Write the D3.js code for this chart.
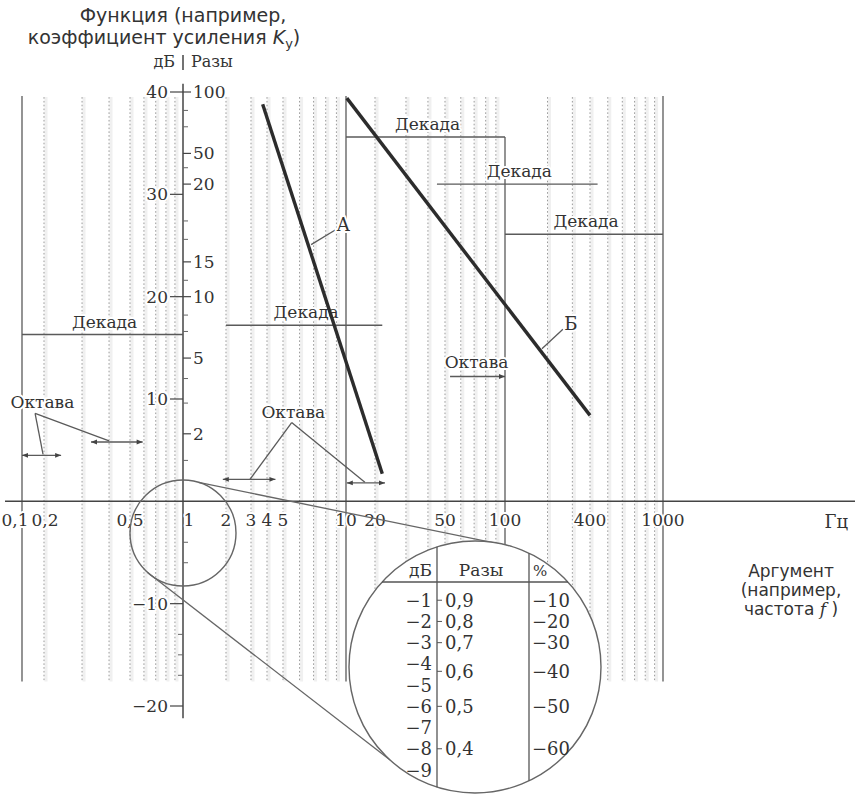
<!DOCTYPE html>
<html><head><meta charset="utf-8">
<script src="https://cdn.jsdelivr.net/npm/d3@7"></script>
<style>body{margin:0;background:#fff}svg{display:block}</style>
</head><body><svg id="c" width="859" height="799"></svg>
<script>
// ---------------- DATA ----------------
const freqTickValues = [0.1, 0.2, 0.5, 1, 2, 3, 4, 5, 10, 20, 50, 100, 400, 1000];
const freqTickLabels = ["0,1", "0,2", "0,5", "1", "2", "3", "4", "5", "10", "20", "50", "100", "400", "1000"];
const dbTickValues = [40, 30, 20, 10, -10, -20];
const dbTickLabels = ["40", "30", "20", "10", "−10", "−20"];
const ratioTickLabels = ["100", "50", "20", "15", "10", "5", "2"];
const ratioTickDb = [40, 34, 31, 23.4, 20, 14, 6.6];
const minorTickDb = [38.2, 36.6, 32.6, 27.4, 25.6, 21.6, 18.2, 16.6, 12, 9.6, 4, -4, -6, -13, -15, -17];
const lineA = [[3.7, 38.8], [22, 2.7]];
const lineB = [[10.2, 39.4], [400, 8.4]];
const lineLabels = [{ text: "А", f: 9.7, db: 27.1, t: 0.38 }, { text: "Б", f: 293, db: 17.4, t: 0.79 }];
const decadeFreq = [0.1, 10, 100, 1000];
const decadeTopDb = [39.6, 39.6, 35.6, 39.6];
const decadeSpans = [[0.1, 1, 16.3], [2, 22, 17.2], [10, 100, 35.6], [45, 440, 31.0], [100, 1000, 26.1]];
const octaveSpans = [[0.1, 0.24, 4.5, "both"], [0.33, 0.59, 5.8, "both"], [1.9, 4.5, 2.15, "both"], [10.2, 22.8, 1.8, "both"], [53, 100, 12.2, "end"]];
const octaveLabels = [
  { f: 0.19, db: 9.1, apex: [0.151, 8.6], targets: [[0.194, 4.6], [0.40, 5.9]] },
  { f: 5.6, db: 8.1, apex: [5.5, 7.7], targets: [[2.95, 2.15], [15.7, 1.86]] },
  { f: 72, db: 13.0, apex: null, targets: [] }
];
const zoomCircleCenter = [1, -3.1];
const zoomDb = [-1, -2, -3, -4, -5, -6, -7, -8, -9];
const zoomRatio = ["0,9", "0,8", "0,7", "0,6", "0,5", "0,4"];
const zoomPct = ["−10", "−20", "−30", "−40", "−50", "−60"];
const zoomRatioDb = [-1, -2, -3, -4.35, -6, -8];

// ---------------- LAYOUT ----------------
const svg = d3.select("#c");
const serif = "'DejaVu Serif', 'Liberation Serif', serif";
const sans = "'DejaVu Sans', 'Noto Sans', sans-serif";
const ink = "#333", lineC = "#5a5a5a";

const x = d3.scaleLog().domain(freqTickValues)
  .range([22, 44, 130, 183, 226, 251, 267, 283, 346, 375, 445, 505, 590, 663]);
const y = d3.scaleLinear().domain([-20, 40]).range([706, 92]);
const X0 = x(1), Y0 = y(0);

// grid
const gridVals = [];
[0.1, 1, 10, 100].forEach(d => { for (let k = 2; k <= 9; k++) gridVals.push(d * k); });
const g = svg.append("g");
g.selectAll("line.u").data(gridVals).join("line")
  .attr("x1", d => x(d) + 2).attr("x2", d => x(d) + 2).attr("y1", y(39.5)).attr("y2", y(-17.6))
  .attr("stroke", "#f0f0f0").attr("stroke-width", 3);
g.selectAll("line.d").data(gridVals).join("line")
  .attr("x1", d => x(d)).attr("x2", d => x(d)).attr("y1", y(39.5)).attr("y2", y(-17.6))
  .attr("stroke", "#999").attr("stroke-width", 1).attr("stroke-dasharray", "1.6,2.2");

// decade solid verticals
svg.selectAll("line.dec").data(decadeFreq).join("line")
  .attr("x1", d => x(d)).attr("x2", d => x(d))
  .attr("y1", (d, i) => y(decadeTopDb[i])).attr("y2", y(-17.6))
  .attr("stroke", lineC).attr("stroke-width", 1.3);

// axes
svg.append("line").attr("x1", 5).attr("x2", 855).attr("y1", Y0).attr("y2", Y0)
  .attr("stroke", "#444").attr("stroke-width", 1.5);
svg.append("line").attr("x1", X0).attr("x2", X0).attr("y1", y(40.8)).attr("y2", y(-21.2))
  .attr("stroke", "#444").attr("stroke-width", 1.5);

// halo text helper
function txt(sel, s, x0, y0, opts = {}) {
  return sel.append("text").attr("x", x0).attr("y", y0).text(s)
    .attr("font-family", opts.family || serif).attr("font-size", opts.size || 17)
    .attr("fill", ink).attr("text-anchor", opts.anchor || "middle")
    .attr("dominant-baseline", opts.baseline || "auto")
    .attr("stroke", "#fff").attr("stroke-width", opts.halo === undefined ? 4 : opts.halo)
    .attr("paint-order", "stroke").attr("stroke-linejoin", "round");
}

// y ticks
dbTickValues.forEach((v, i) => {
  svg.append("line").attr("x1", X0 - 13).attr("x2", X0).attr("y1", y(v)).attr("y2", y(v)).attr("stroke", "#444").attr("stroke-width", 1.2);
  txt(svg, dbTickLabels[i], X0 - 15, y(v), { anchor: "end", baseline: "central" });
});
ratioTickDb.forEach((v, i) => {
  svg.append("line").attr("x1", X0).attr("x2", X0 + 8).attr("y1", y(v)).attr("y2", y(v)).attr("stroke", "#444").attr("stroke-width", 1.2);
  txt(svg, ratioTickLabels[i], X0 + 10, y(v), { anchor: "start", baseline: "central" });
});
minorTickDb.forEach(v => {
  svg.append("line").attr("x1", v < -10 ? X0 - 5 : X0).attr("x2", v < -10 ? X0 : X0 + 5)
    .attr("y1", y(v)).attr("y2", y(v)).attr("stroke", "#666").attr("stroke-width", 1);
});

// x tick labels
freqTickValues.forEach((v, i) => {
  const dx = v === 1 ? 6 : (v === 0.1 ? -7 : (v === 0.2 ? 1 : 0));
  txt(svg, freqTickLabels[i], x(v) + dx, Y0 + 25, {});
});

// markers
const defs = svg.append("defs");
defs.append("marker").attr("id", "ah").attr("viewBox", "0 0 10 10").attr("refX", 10).attr("refY", 5)
  .attr("markerWidth", 9).attr("markerHeight", 6).attr("markerUnits", "userSpaceOnUse").attr("orient", "auto-start-reverse")
  .append("path").attr("d", "M0,1 L10,5 L0,9 Z").attr("fill", "#444");

// decade spans
decadeSpans.forEach(([f0, f1, db]) => {
  svg.append("line").attr("x1", x(f0)).attr("x2", x(f1)).attr("y1", y(db)).attr("y2", y(db))
    .attr("stroke", lineC).attr("stroke-width", 1.4);
  txt(svg, "Декада", (x(f0) + x(f1)) / 2 + 2, y(db) - 7, {});
});

// octave spans
octaveSpans.forEach(([f0, f1, db, heads]) => {
  const l = svg.append("line").attr("x1", x(f0)).attr("x2", x(f1)).attr("y1", y(db)).attr("y2", y(db))
    .attr("stroke", lineC).attr("stroke-width", 1.3).attr("marker-end", "url(#ah)");
  if (heads === "both") l.attr("marker-start", "url(#ah)");
});
octaveLabels.forEach(o => {
  if (o.apex) o.targets.forEach(t => {
    svg.append("line").attr("x1", x(o.apex[0])).attr("y1", y(o.apex[1])).attr("x2", x(t[0])).attr("y2", y(t[1]))
      .attr("stroke", lineC).attr("stroke-width", 1.3);
  });
});
octaveLabels.forEach(o => txt(svg, "Октава", x(o.f), y(o.db), {}));

// main lines
const lineGen = d3.line().x(d => x(d[0])).y(d => y(d[1]));
[lineA, lineB].forEach(L => {
  svg.append("path").attr("d", lineGen(L)).attr("fill", "none").attr("stroke", "#2c2c2c").attr("stroke-width", 3.4);
});
[lineA, lineB].forEach((L, i) => {
  const lb = lineLabels[i];
  const px = x(L[0][0]) + lb.t * (x(L[1][0]) - x(L[0][0]));
  const py = y(L[0][1]) + lb.t * (y(L[1][1]) - y(L[0][1]));
  const lx = x(lb.f), ly = y(lb.db);
  svg.append("line").attr("x1", px + 3).attr("y1", py).attr("x2", lx - 8).attr("y2", ly + 6)
    .attr("stroke", lineC).attr("stroke-width", 1.3);
  txt(svg, lb.text, lx, ly, { baseline: "central", size: 18 });
});

// magnifier circles
const c1 = [x(zoomCircleCenter[0]), y(zoomCircleCenter[1])], r1 = 53;
const c2 = [475, 667], r2 = 126;
svg.append("circle").attr("cx", c1[0]).attr("cy", c1[1]).attr("r", r1)
  .attr("fill", "none").attr("stroke", "#666").attr("stroke-width", 1.4);
const dx = c2[0] - c1[0], dy = c2[1] - c1[1], dist = Math.hypot(dx, dy);
const th = Math.atan2(dy, dx), al = Math.asin((r2 - r1) / dist);
[-1, 1].forEach(s => {
  const a = th + s * (Math.PI / 2 + al) + (s > 0 ? 0.08 : 0.1);
  svg.append("line")
    .attr("x1", c1[0] + r1 * Math.cos(a)).attr("y1", c1[1] + r1 * Math.sin(a))
    .attr("x2", c2[0] + r2 * Math.cos(a)).attr("y2", c2[1] + r2 * Math.sin(a))
    .attr("stroke", "#666").attr("stroke-width", 1.3);
});
const ins = svg.append("g").attr("transform", `translate(${c2[0]},${c2[1]})`);
ins.append("circle").attr("r", r2).attr("fill", "#fff").attr("stroke", "#666").attr("stroke-width", 1.4);
const hy = -85, hw = Math.sqrt(r2 * r2 - hy * hy);
ins.append("line").attr("x1", -hw).attr("x2", hw).attr("y1", hy).attr("y2", hy).attr("stroke", "#555").attr("stroke-width", 1.3);
[-38, 54].forEach(vx => {
  const h = Math.sqrt(r2 * r2 - vx * vx);
  ins.append("line").attr("x1", vx).attr("x2", vx).attr("y1", -h).attr("y2", h).attr("stroke", "#555").attr("stroke-width", 1.3);
});
txt(ins, "дБ", -43, -91, { anchor: "end", halo: 0 });
txt(ins, "Разы", 6, -91, { halo: 0 });
txt(ins, "%", 58, -91, { anchor: "start", halo: 0, size: 15 });
const yz = d3.scaleLinear().domain([0, -9]).range([-88, 103]);
zoomDb.forEach(v => txt(ins, "−" + Math.abs(v), -43, yz(v), { anchor: "end", baseline: "central", halo: 0, size: 18 }));
zoomRatioDb.forEach((v, i) => {
  ins.append("line").attr("x1", -38).attr("x2", -33).attr("y1", yz(v)).attr("y2", yz(v)).attr("stroke", "#555");
  txt(ins, zoomRatio[i], -30, yz(v), { anchor: "start", baseline: "central", halo: 0, size: 18 });
  txt(ins, zoomPct[i], 95, yz(v), { anchor: "end", baseline: "central", halo: 0, size: 18 });
});

// titles
txt(svg, "Функция (например,", 183, 22, { family: sans, size: 19, halo: 0 });
const t2 = svg.append("text").attr("x", 164).attr("y", 44).attr("text-anchor", "middle")
  .attr("font-family", sans).attr("font-size", 19).attr("fill", ink);
t2.append("tspan").text("коэффициент усиления ");
t2.append("tspan").text("K").attr("font-style", "italic");
t2.append("tspan").text("y").attr("font-size", 13).attr("dy", 4);
t2.append("tspan").text(")").attr("dy", -4);
txt(svg, "дБ", X0 - 8, 67, { anchor: "end", halo: 0, size: 16 });
txt(svg, "Разы", X0 + 8, 67, { anchor: "start", halo: 0, size: 16 });
svg.append("line").attr("x1", X0).attr("x2", X0).attr("y1", 55).attr("y2", 70).attr("stroke", "#444").attr("stroke-width", 1.5);
txt(svg, "Гц", 848, 528, { anchor: "end", halo: 0, size: 18 });
txt(svg, "Аргумент", 791, 577, { family: sans, size: 17, halo: 0 });
txt(svg, "(например,", 791, 596, { family: sans, size: 17, halo: 0 });
const t3 = svg.append("text").attr("x", 791).attr("y", 615).attr("text-anchor", "middle")
  .attr("font-family", sans).attr("font-size", 17).attr("fill", ink);
t3.append("tspan").text("частота ");
t3.append("tspan").text("f").attr("font-style", "italic").attr("font-family", serif);
t3.append("tspan").text(" )");
</script></body></html>
